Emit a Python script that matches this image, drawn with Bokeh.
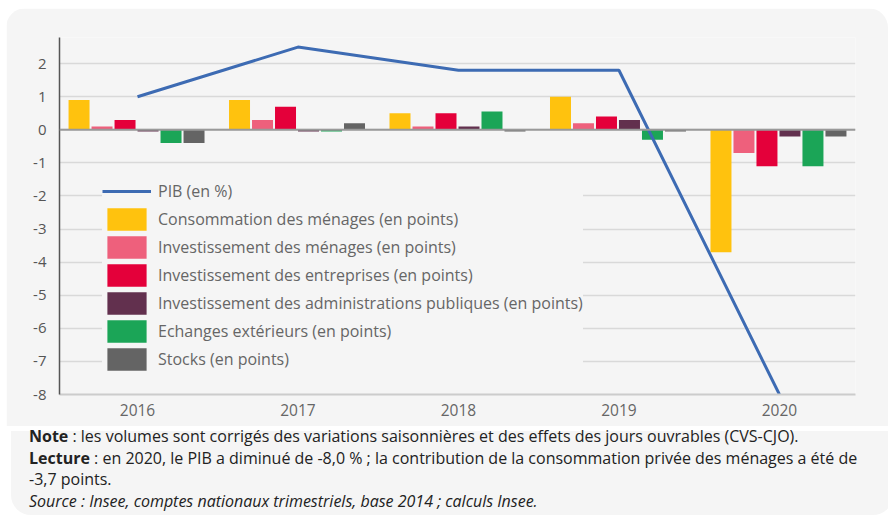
from bokeh.plotting import figure
from bokeh.models import (Range1d, FixedTicker, Legend, LegendItem, Span, Div,
                          ColumnDataSource)
from bokeh.layouts import column
from bokeh.embed import file_html
from bokeh.resources import INLINE

# ---- data ----
years = [2016, 2017, 2018, 2019, 2020]
year_labels = ["2016", "2017", "2018", "2019", "2020"]
pib = [1.0, 2.5, 1.8, 1.8, -8.0]
conso = [0.9, 0.9, 0.5, 1.0, -3.7]
inv_men = [0.1, 0.3, 0.1, 0.2, -0.7]
inv_ent = [0.3, 0.7, 0.5, 0.4, -1.1]
inv_apu = [-0.05, -0.05, 0.1, 0.3, -0.2]
echanges = [-0.4, -0.05, 0.55, -0.3, -1.1]
stocks = [-0.4, 0.2, -0.05, -0.05, -0.2]
y_ticks = [-8, -7, -6, -5, -4, -3, -2, -1, 0, 1, 2]
y_tick_labels = ["-8", "-7", "-6", "-5", "-4", "-3", "-2", "-1", "0", "1", "2"]

series = [
    ("Consommation des ménages (en points)", conso, "#FFC20E"),
    ("Investissement des ménages (en points)", inv_men, "#EE607C"),
    ("Investissement des entreprises (en points)", inv_ent, "#E4003A"),
    ("Investissement des administrations publiques (en points)", inv_apu, "#62304E"),
    ("Echanges extérieurs (en points)", echanges, "#1BA557"),
    ("Stocks (en points)", stocks, "#646464"),
]

BG = "#f5f5f5"
FONT = "Open Sans"

p = figure(width=882, height=418, frame_width=796, frame_height=357,
           min_border_left=53, min_border_right=33, min_border_top=29,
           min_border_bottom=32,
           x_range=Range1d(2015.514, 2020.474), y_range=Range1d(-8, 2.79),
           output_backend="svg", toolbar_location=None)
p.background_fill_color = BG
p.border_fill_color = BG
p.outline_line_color = None
p.styles = {"border-radius": "20px 20px 0 0", "overflow": "hidden"}

# grid
p.xgrid.grid_line_color = None
p.ygrid.grid_line_color = "#d9d9d9"
p.ygrid.grid_line_width = 1.5
p.yaxis.ticker = FixedTicker(ticks=y_ticks)
p.ygrid.ticker = FixedTicker(ticks=y_ticks)

# axes
p.yaxis.major_label_overrides = {t: l for t, l in zip(y_ticks, y_tick_labels)}
p.yaxis.axis_line_color = "#555555"
p.yaxis.axis_line_width = 1.5
p.yaxis.major_tick_line_color = None
p.yaxis.minor_tick_line_color = None
p.yaxis.major_label_text_font = FONT
p.yaxis.major_label_text_font_size = "15px"
p.yaxis.major_label_text_color = "#555555"
p.yaxis.major_label_standoff = 7

p.xaxis.ticker = FixedTicker(ticks=years)
p.xaxis.major_label_overrides = {y: l for y, l in zip(years, year_labels)}
p.xaxis.axis_line_color = "#cccccc"
p.xaxis.axis_line_width = 2
p.xaxis.major_tick_line_color = None
p.xaxis.minor_tick_line_color = None
p.xaxis.major_label_text_font = FONT
p.xaxis.major_label_text_font_size = "15.5px"
p.xaxis.major_label_text_color = "#666666"
p.xaxis.major_label_standoff = 3

# bars
step = 0.1433
bw = 0.1308
bar_items = []
for i, (name, vals, col) in enumerate(series):
    xs = [y + (i - 2.5) * step - 0.006 for y in years]
    src = ColumnDataSource(dict(x=xs, top=vals))
    r = p.vbar(x="x", top="top", bottom=0, width=bw, source=src,
               fill_color=col, line_color=None)
    bar_items.append(LegendItem(label=name, renderers=[r]))

# zero line
p.add_layout(Span(location=0, dimension="width", line_color="#999999",
                  line_width=2))

# PIB line
lsrc = ColumnDataSource(dict(x=years, y=pib))
lr = p.line(x="x", y="y", source=lsrc, line_color="#3D6BB3", line_width=3)

legend = Legend(items=[LegendItem(label="PIB (en %)", renderers=[lr])] + bar_items,
                location=(43, 21), orientation="vertical",
                background_fill_color=BG, background_fill_alpha=1.0,
                border_line_color=None, padding=4, margin=0,
                glyph_width=49, glyph_height=28, spacing=0,
                label_standoff=7, label_text_font=FONT,
                label_text_font_size="16px", label_text_color="#666666")
p.add_layout(legend, "center")

notes_html = (
    "<div style='margin-top:-5px'>"
    "<b>Note</b> : les volumes sont corrigés des variations saisonnières et des effets "
    "des jours ouvrables (CVS-CJO).<br>"
    "<b>Lecture</b> : en 2020, le PIB a diminué de -8,0 % ; la contribution de la "
    "consommation privée des ménages a été de<br>"
    "-3,7 points.<br>"
    "<i>Source : Insee, comptes nationaux trimestriels, base 2014 ; calculs Insee.</i>"
    "</div>"
)
notes = Div(text=notes_html, width=882, height=84,
            styles={"background-color": BG, "border-radius": "0 0 20px 20px",
                    "box-sizing": "border-box", "padding": "0 0 0 18px",
                    "font-family": "'Open Sans', sans-serif", "font-size": "16px",
                    "line-height": "21.5px", "color": "#222222",
                    "white-space": "nowrap"})

layout = column(p, notes, spacing=0, margin=(8, 0, 0, 6))

open("out.html", "w").write(file_html(layout, INLINE))
